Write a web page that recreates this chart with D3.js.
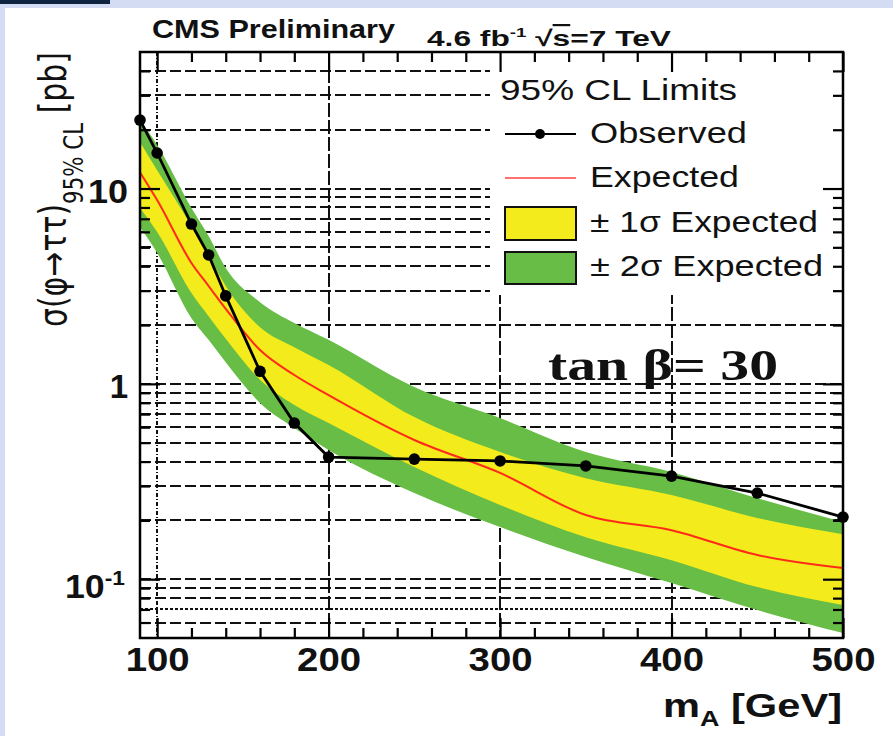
<!DOCTYPE html>
<html lang="en">
<head>
<meta charset="utf-8">
<title>CMS Preliminary - tan beta 30</title>
<script src="https://cdn.jsdelivr.net/npm/d3@7"></script>
<style>
  body { margin: 0; background: #fff; }
  svg { display: block; font-family: "Liberation Sans", Arial, Helvetica, sans-serif; }
</style>
</head>
<body>
<svg id="chart" width="893" height="736"></svg>
<script>
// mass points [GeV] and limits [pb]
var massPoints = [90, 100, 120, 130, 140, 160, 180, 200, 250, 300, 350, 400, 450, 500];
var observed   = [22.4, 15.2, 6.58, 4.57, 2.82, 1.16, 0.63, 0.422, 0.412, 0.403, 0.38, 0.337, 0.276, 0.208];
var expected   = [12.1, 8.73, 4.16, 3.17, 2.42, 1.49, 1.11, 0.876, 0.516, 0.35, 0.213, 0.178, 0.133, 0.114];
var exp1Up     = [17.3, 12.4, 6.43, 4.51, 3.17, 1.95, 1.54, 1.25, 0.676, 0.448, 0.329, 0.27, 0.206, 0.17];
var exp1Down   = [7.95, 5.99, 2.92, 2.22, 1.70, 1.05, 0.779, 0.63, 0.375, 0.24, 0.164, 0.125, 0.0911, 0.0737];
var exp2Up     = [22.4, 16.7, 7.95, 5.71, 3.92, 2.62, 2.05, 1.68, 0.963, 0.668, 0.448, 0.354, 0.26, 0.196];
var exp2Down   = [6.35, 4.68, 2.17, 1.68, 1.29, 0.798, 0.594, 0.458, 0.276, 0.185, 0.13, 0.0955, 0.0695, 0.053];

var xTicks = [100, 200, 300, 400, 500];
var xMinor = d3.range(120, 500, 20).filter(function(v) { return v % 100 !== 0; });
var yMajor = [0.1, 1, 10];
var yMinor = [0.06, 0.07, 0.08, 0.09, 0.2, 0.3, 0.4, 0.5, 0.6, 0.7, 0.8, 0.9,
              2, 3, 4, 5, 6, 7, 8, 9, 20, 30, 40];

var width = 893, height = 736;
var margin = {top: 52, left: 140};
var plotW = 703, plotH = 586;

var svg = d3.select("#chart");

// slide background strips
svg.append("rect").attr("width", width).attr("height", height).attr("fill", "#d3dcf2");
svg.append("rect").attr("x", 5).attr("y", 8).attr("width", width - 5).attr("height", height - 8).attr("fill", "#fff");
svg.append("rect").attr("width", 110).attr("height", 4).attr("fill", "#0e2440");

var g = svg.append("g")
    .attr("transform", "translate(" + margin.left + "," + margin.top + ")");

var x = d3.scaleLinear().domain([90, 500]).range([0, plotW]);
var y = d3.scaleLog().domain([0.05, 50]).range([plotH, 0]);

var rows = massPoints.map(function(m, i) {
    return {m: m, obs: observed[i], exp: expected[i],
            u1: exp1Up[i], d1: exp1Down[i], u2: exp2Up[i], d2: exp2Down[i]};
});

// grid
g.append("g").selectAll("line")
    .data(yMinor.concat(yMajor))
    .enter().append("line")
    .attr("x1", 0).attr("x2", plotW)
    .attr("y1", function(d) { return Math.round(y(d)); })
    .attr("y2", function(d) { return Math.round(y(d)); })
    .attr("stroke", "#111")
    .attr("shape-rendering", "crispEdges")
    .attr("stroke-width", function(d) { return d === 0.07 ? 1.5 : 2.4; })
    .attr("stroke-dasharray", function(d) { return d === 0.07 ? "3,2" : "11,4"; });

g.append("g").selectAll("line")
    .data(xTicks.slice(0, 4))
    .enter().append("line")
    .attr("x1", function(d) { return Math.round(x(d)); })
    .attr("x2", function(d) { return Math.round(x(d)); })
    .attr("y1", 0).attr("y2", plotH)
    .attr("stroke", "#111")
    .attr("shape-rendering", "crispEdges")
    .attr("stroke-width", function(d) { return d === 100 ? 1.6 : 2.4; })
    .attr("stroke-dasharray", function(d) { return d === 100 ? "4,2,1,2" : "14,3"; });

// legend background hides the grid
g.append("rect")
    .attr("x", 350).attr("y", 1)
    .attr("width", plotW - 351).attr("height", 242)
    .attr("fill", "#fff");

// bands
var band = function(lo, hi) {
    return d3.area()
        .x(function(d) { return x(d.m); })
        .y0(function(d) { return y(d[lo]); })
        .y1(function(d) { return y(d[hi]); })
        .curve(d3.curveMonotoneX);
};
g.append("path").datum(rows).attr("d", band("d2", "u2")).attr("fill", "#67bd45");
g.append("path").datum(rows).attr("d", band("d1", "u1")).attr("fill", "#f3eb1b");

g.append("path").datum(rows)
    .attr("d", d3.line()
        .x(function(d) { return x(d.m); })
        .y(function(d) { return y(d.exp); })
        .curve(d3.curveMonotoneX))
    .attr("fill", "none")
    .attr("stroke", "#ff2a1a")
    .attr("stroke-width", 2);

g.append("path").datum(rows)
    .attr("d", d3.line()
        .x(function(d) { return x(d.m); })
        .y(function(d) { return y(d.obs); }))
    .attr("fill", "none")
    .attr("stroke", "#000")
    .attr("stroke-width", 2.8);

g.selectAll(".obs")
    .data(rows)
    .enter().append("circle")
    .attr("class", "obs")
    .attr("cx", function(d) { return x(d.m); })
    .attr("cy", function(d) { return y(d.obs); })
    .attr("r", 5.8)
    .attr("fill", "#000");

// inward ticks on all four sides
function drawTicks(axis, transform) {
    var a = g.append("g").attr("transform", transform).call(axis);
    a.select(".domain").remove();
    a.selectAll("text").remove();
    a.selectAll("line").attr("stroke", "#000").attr("stroke-width", 2.2);
}
drawTicks(d3.axisTop(x).tickValues(xMinor).tickSize(10), "translate(0," + plotH + ")");
drawTicks(d3.axisTop(x).tickValues(xTicks).tickSize(20), "translate(0," + plotH + ")");
drawTicks(d3.axisBottom(x).tickValues(xMinor).tickSize(10), "translate(0,0)");
drawTicks(d3.axisBottom(x).tickValues(xTicks).tickSize(20), "translate(0,0)");
drawTicks(d3.axisRight(y).tickValues(yMinor).tickSize(10), "translate(0,0)");
drawTicks(d3.axisRight(y).tickValues(yMajor).tickSize(20), "translate(0,0)");
drawTicks(d3.axisLeft(y).tickValues(yMinor).tickSize(10), "translate(" + plotW + ",0)");
drawTicks(d3.axisLeft(y).tickValues(yMajor).tickSize(20), "translate(" + plotW + ",0)");

// frame
g.append("rect")
    .attr("width", plotW).attr("height", plotH)
    .attr("fill", "none").attr("stroke", "#000").attr("stroke-width", 2.5);

// tick labels
var xLab = g.append("g")
    .call(d3.axisBottom(x).tickValues(xTicks).tickSize(0).tickFormat(d3.format("d")))
    .attr("transform", "translate(0," + plotH + ")");
xLab.select(".domain").remove();
xLab.selectAll("text")
    .attr("y", 33).attr("dy", null)
    .attr("font-family", "Liberation Sans, Arial, sans-serif").attr("font-weight", "bold")
    .attr("font-size", 33).attr("fill", "#111")
    .attr("textLength", 64).attr("lengthAdjust", "spacingAndGlyphs");

var yLab = g.append("g")
    .call(d3.axisLeft(y).tickValues(yMajor).tickSize(0).tickPadding(12)
        .tickFormat(function(d) { return d === 0.1 ? "" : d3.format("d")(d); }));
yLab.select(".domain").remove();
yLab.selectAll("text")
    .attr("dy", "0.42em")
    .attr("font-family", "Liberation Sans, Arial, sans-serif").attr("font-weight", "bold")
    .attr("font-size", 33).attr("fill", "#111");
yLab.selectAll("text").filter(function(d) { return d === 10; })
    .attr("textLength", 40).attr("lengthAdjust", "spacingAndGlyphs");
yLab.selectAll("text").filter(function(d) { return d === 0.1; })
    .each(function() {
        var t = d3.select(this).attr("x", -15).attr("dy", "0.55em")
            .attr("textLength", 60).attr("lengthAdjust", "spacingAndGlyphs");
        t.append("tspan").text("10");
        t.append("tspan").attr("dy", -13).attr("font-size", 21).text("-1");
    });

// titles
svg.append("text")
    .attr("x", 152).attr("y", 38)
    .attr("font-weight", "bold").attr("font-size", 25).attr("fill", "#111")
    .attr("textLength", 243).attr("lengthAdjust", "spacingAndGlyphs")
    .text("CMS Preliminary");

var lumi = svg.append("text")
    .attr("x", 427).attr("y", 46)
    .attr("font-weight", "bold").attr("font-size", 22).attr("fill", "#111")
    .attr("textLength", 244).attr("lengthAdjust", "spacingAndGlyphs");
lumi.append("tspan").text("4.6 fb");
lumi.append("tspan").attr("dy", -9).attr("font-size", 13).text("-1");
lumi.append("tspan").attr("dy", 9).text(" \u221A");
lumi.append("tspan").style("text-decoration", "overline").text("s");
lumi.append("tspan").text("=7 TeV");

// axis titles
var xt = svg.append("text")
    .attr("x", 842).attr("y", 717)
    .attr("text-anchor", "end")
    .attr("font-weight", "bold").attr("font-size", 34).attr("fill", "#111")
    .attr("textLength", 179).attr("lengthAdjust", "spacingAndGlyphs");
xt.append("tspan").text("m");
xt.append("tspan").attr("dy", 9).attr("font-size", 22).text("A");
xt.append("tspan").attr("dy", -9).text(" [GeV]");

var yt = svg.append("text")
    .attr("transform", "translate(66,327) scale(1.3,1) rotate(-90)")
    .attr("font-family", "DejaVu Sans, sans-serif")
    .attr("font-size", 28).attr("fill", "#111")
    .attr("textLength", 275).attr("lengthAdjust", "spacingAndGlyphs");
yt.append("tspan").text("\u03C3(\u03C6\u2192\u03C4\u03C4)");
yt.append("tspan").attr("dy", 13).attr("font-size", 20).text("95% CL");
yt.append("tspan").attr("dy", -13).text(" [pb]");

svg.append("text")
    .attr("x", 548).attr("y", 380)
    .attr("font-family", "Liberation Serif, DejaVu Serif, serif")
    .attr("font-weight", "bold").attr("font-size", 44).attr("fill", "#111")
    .attr("textLength", 230).attr("lengthAdjust", "spacingAndGlyphs")
    .text("tan \u03B2= 30");

// legend
var legend = svg.append("g").attr("font-size", 30).attr("fill", "#111");
legend.append("text").attr("x", 500).attr("y", 100)
    .attr("textLength", 237).attr("lengthAdjust", "spacingAndGlyphs")
    .text("95% CL Limits");

legend.append("line").attr("x1", 505).attr("x2", 576).attr("y1", 134).attr("y2", 134)
    .attr("stroke", "#000").attr("stroke-width", 2);
legend.append("circle").attr("cx", 540).attr("cy", 134).attr("r", 5).attr("fill", "#000");
legend.append("text").attr("x", 590).attr("y", 143)
    .attr("textLength", 157).attr("lengthAdjust", "spacingAndGlyphs")
    .text("Observed");

legend.append("line").attr("x1", 505).attr("x2", 576).attr("y1", 178).attr("y2", 178)
    .attr("stroke", "#ff4040").attr("stroke-width", 1.6);
legend.append("text").attr("x", 590).attr("y", 187)
    .attr("textLength", 149).attr("lengthAdjust", "spacingAndGlyphs")
    .text("Expected");

legend.append("rect").attr("x", 505).attr("y", 207).attr("width", 71).attr("height", 33)
    .attr("fill", "#f3eb1b").attr("stroke", "#111").attr("stroke-width", 2);
legend.append("text").attr("x", 590).attr("y", 232)
    .attr("textLength", 228).attr("lengthAdjust", "spacingAndGlyphs")
    .text("\u00B1 1\u03C3 Expected");

legend.append("rect").attr("x", 505).attr("y", 252).attr("width", 71).attr("height", 32)
    .attr("fill", "#67bd45").attr("stroke", "#111").attr("stroke-width", 2);
legend.append("text").attr("x", 590).attr("y", 276)
    .attr("textLength", 233).attr("lengthAdjust", "spacingAndGlyphs")
    .text("\u00B1 2\u03C3 Expected");
</script>
</body>
</html>
